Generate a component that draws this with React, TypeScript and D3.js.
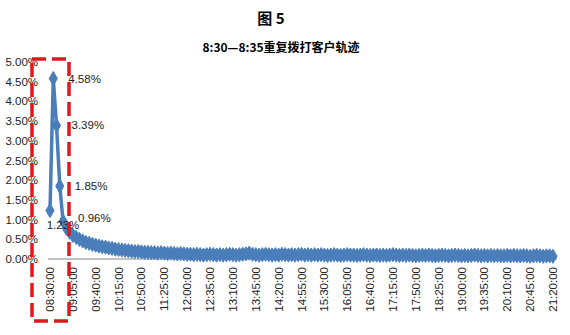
import React, { useEffect, useRef } from "react";
import * as d3 from "d3";

// share of repeat callers per 5-minute slot, 08:30 .. 21:20 (%)
const values = [
  1.23, 4.58, 3.39, 1.85, 0.96,
  0.78, 0.68, 0.6, 0.55, 0.5, 0.46, 0.42, 0.4, 0.37, 0.35,
  0.33, 0.31, 0.3, 0.28, 0.27, 0.25, 0.24,
  0.23, 0.22, 0.21, 0.2, 0.19, 0.19, 0.18,
  0.17, 0.17, 0.16, 0.16, 0.15, 0.16, 0.15,
  0.14, 0.15, 0.14, 0.13, 0.14, 0.13, 0.12,
  0.12, 0.11, 0.12, 0.11, 0.1, 0.11, 0.12, 0.11, 0.1, 0.11, 0.1, 0.11, 0.12, 0.11, 0.1, 0.11, 0.12, 0.13,
  0.15,
  0.12, 0.11, 0.1, 0.11, 0.12, 0.11, 0.1, 0.11, 0.1, 0.12, 0.11, 0.1, 0.11, 0.1, 0.11, 0.12, 0.1, 0.11, 0.1,
  0.11, 0.1, 0.11, 0.1, 0.09, 0.1, 0.11, 0.1, 0.09, 0.1, 0.11, 0.1, 0.1, 0.09, 0.1, 0.11, 0.1, 0.09, 0.1, 0.1,
  0.09, 0.1, 0.09, 0.1, 0.11, 0.1, 0.09, 0.1, 0.09, 0.1, 0.09, 0.08, 0.09, 0.1, 0.09, 0.1, 0.09, 0.08, 0.09, 0.1,
  0.09, 0.08, 0.09, 0.1, 0.09, 0.08, 0.09, 0.08, 0.09, 0.1, 0.09, 0.08, 0.09, 0.08, 0.09, 0.08, 0.09, 0.08, 0.08, 0.09,
  0.08, 0.09, 0.08, 0.08, 0.09, 0.08, 0.07, 0.08, 0.09, 0.08, 0.07, 0.08, 0.08, 0.07,
];

const tickLabels = [
  "08:30:00", "09:05:00", "09:40:00", "10:15:00", "10:50:00", "11:25:00",
  "12:00:00", "12:35:00", "13:10:00", "13:45:00", "14:20:00", "14:55:00",
  "15:30:00", "16:05:00", "16:40:00", "17:15:00", "17:50:00", "18:25:00",
  "19:00:00", "19:35:00", "20:10:00", "20:45:00", "21:20:00",
];

const yTicks = [0, 0.5, 1, 1.5, 2, 2.5, 3, 3.5, 4, 4.5, 5];

// which points carry a value label
const labelled = [0, 1, 2, 3, 4];

export default function App() {
  const ref = useRef<SVGSVGElement>(null);

  useEffect(() => {
    const svg = d3.select(ref.current);
    svg.selectAll("*").remove();

    const fmt = d3.timeFormat("%H:%M:%S");
    const start = new Date(2016, 1, 1, 8, 30, 0);
    const categories = values.map((_, i) => fmt(d3.timeMinute.offset(start, i * 5)));

    var x = d3.scalePoint().domain(categories).range([50, 553]);
    var y = d3.scaleLinear().domain([0, 5]).range([259, 62]);

    const font = "'Liberation Sans', Arial, sans-serif";
    const blue = "#4a7ebb";

    // titles
    svg
      .append("text")
      .attr("x", 271)
      .attr("y", 24)
      .attr("text-anchor", "middle")
      .style("font-family", "'Noto Sans CJK SC', sans-serif")
      .style("font-weight", "bold")
      .style("font-size", "15px")
      .text("图 5");
    svg
      .append("text")
      .attr("x", 281)
      .attr("y", 52)
      .attr("text-anchor", "middle")
      .style("font-family", "'Noto Sans CJK SC', sans-serif")
      .style("font-weight", "bold")
      .style("font-size", "12px")
      .text("8:30—8:35重复拨打客户轨迹");

    // y labels
    svg
      .append("g")
      .selectAll("text")
      .data(yTicks)
      .enter()
      .append("text")
      .attr("x", 38)
      .attr("y", d => y(d))
      .attr("dy", "0.35em")
      .attr("text-anchor", "end")
      .style("font-family", font)
      .style("font-size", "11.5px")
      .attr("fill", "#222")
      .text(d => d.toFixed(2) + "%");

    // x axis line
    svg
      .append("line")
      .attr("x1", 48)
      .attr("x2", 557)
      .attr("y1", y(0))
      .attr("y2", y(0))
      .attr("stroke", "#868686")
      .attr("stroke-width", 1);

    // x labels (rotated)
    svg
      .append("g")
      .selectAll("text")
      .data(tickLabels)
      .enter()
      .append("text")
      .attr("transform", d => "translate(" + (x(d) as number) + "," + 267 + ") rotate(-90)")
      .attr("dy", "0.35em")
      .attr("text-anchor", "end")
      .style("font-family", font)
      .style("font-size", "11.5px")
      .attr("fill", "#222")
      .text(d => d);

    // line
    var line = d3
      .line<number>()
      .x((_, i) => x(categories[i]) as number)
      .y(d => y(d));
    svg
      .append("path")
      .datum(values)
      .attr("d", line)
      .attr("fill", "none")
      .attr("stroke", blue)
      .attr("stroke-width", 3.5)
      .attr("stroke-linejoin", "round");

    // diamond markers
    const diamond = d3.symbol().type(d3.symbolDiamond).size(58);
    svg
      .append("g")
      .selectAll("path")
      .data(values)
      .enter()
      .append("path")
      .attr("d", diamond)
      .attr("transform", (d, i) => "translate(" + (x(categories[i]) as number) + "," + y(d) + ")")
      .attr("fill", blue)
      .attr("stroke", blue)
      .attr("stroke-width", 1);

    // data labels
    const offsets: { [k: number]: [number, number, string] } = {
      0: [13, 14, "middle"],
      1: [15, 0, "start"],
      2: [15, 0, "start"],
      3: [15, 0, "start"],
      4: [15, -3, "start"],
    };
    svg
      .append("g")
      .selectAll("text")
      .data(labelled)
      .enter()
      .append("text")
      .attr("x", i => (x(categories[i]) as number) + offsets[i][0])
      .attr("y", i => y(values[i]) + offsets[i][1])
      .attr("dy", "0.35em")
      .attr("text-anchor", i => offsets[i][2])
      .style("font-family", font)
      .style("font-size", "11.5px")
      .attr("fill", "#222")
      .text(i => values[i].toFixed(2) + "%");

    // red dashed highlight box
    svg
      .append("rect")
      .attr("x", 32)
      .attr("y", 59)
      .attr("width", 37)
      .attr("height", 262)
      .attr("fill", "none")
      .attr("stroke", "#e3171b")
      .attr("stroke-width", 3.5)
      .attr("stroke-dasharray", "14,6");
  }, []);

  return (
    <svg
      ref={ref}
      width={570}
      height={335}
      style={{ position: "absolute", left: 0, top: 0, background: "#fff" }}
    />
  );
}
